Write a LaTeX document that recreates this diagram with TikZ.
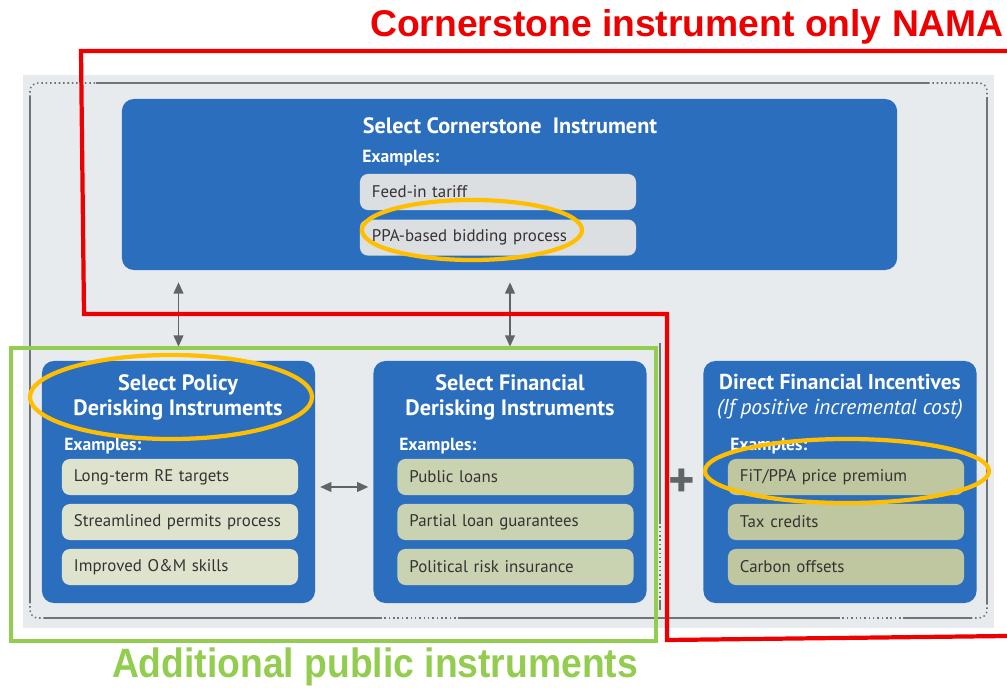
\documentclass[tikz,border=0pt]{standalone}
\usepackage{fontspec}
\setmainfont{PT Sans}
\newfontfamily\headfont{Liberation Sans}
\usetikzlibrary{positioning,arrows.meta}

\definecolor{boxblue}{RGB}{44,110,190}
\definecolor{panelgray}{RGB}{232,235,238}
\definecolor{framegray}{RGB}{112,116,120}
\definecolor{itemgray}{RGB}{220,223,226}
\definecolor{itemlight}{RGB}{222,227,206}
\definecolor{itemmid}{RGB}{201,211,178}
\definecolor{itemdark}{RGB}{190,199,160}
\definecolor{itemtext}{RGB}{55,50,50}
\definecolor{arrowgray}{RGB}{95,100,104}
\definecolor{markgold}{RGB}{255,190,0}
\definecolor{notered}{RGB}{238,0,0}
\definecolor{notegreen}{RGB}{146,205,80}

\begin{document}
\begin{tikzpicture}[x=0.025cm, y=-0.025cm,
    bluebox/.style={fill=boxblue, rounded corners=0.3cm, inner sep=0pt},
    boxtitle/.style={text=white, font=\fontsize{15.8}{17.7}\selectfont\bfseries, align=center},
    examples/.style={text=white, font=\fontsize{12.5}{14}\selectfont\bfseries, anchor=west, inner sep=0pt},
    item/.style={rounded corners=0.2cm, minimum height=0.9cm, text width=5.3cm, inner xsep=0.3cm, align=left, text=itemtext, font=\fontsize{12}{14}\selectfont},
    link/.style={<->, >={Triangle[length=0.28cm, width=0.24cm]}, arrowgray, line width=1.3pt},
    frameline/.style={framegray, line width=1.1pt},
    framedots/.style={frameline, dotted},
    highlight/.style={draw=markgold, line width=3pt},
    note/.style={font=\headfont\bfseries\fontsize{26.5}{30}\selectfont, inner sep=0pt},
  ]
    \useasboundingbox (0,0) rectangle (1007,688);

    % Background panel and its frame
    \fill[panelgray] (23,75) rectangle (994,628);
    \draw[framedots, rounded corners=0.2cm] (30,97) |- (96,83);
    \draw[frameline] (96,83) -- (928,83);
    \draw[framedots, rounded corners=0.2cm] (928,83) -| (987,97);
    \draw[frameline] (987,97) -- (987,603);
    \draw[framedots, rounded corners=0.2cm] (987,603) |- (972,618);
    \draw[frameline] (972,618) -- (905,618);
    \draw[framedots] (905,618) -- (838,618);
    \draw[frameline] (838,618) -- (460,618);
    \draw[framedots] (460,618) -- (380,618);
    \draw[frameline] (380,618) -- (45,618);
    \draw[framedots, rounded corners=0.2cm] (45,618) -| (30,603);
    \draw[frameline] (30,603) -- (30,97);
    % separator
    \draw[frameline] (660,343) -- (660,522);
    \draw[framedots] (660,522) -- (660,602);
    \draw[frameline] (660,602) -- (660,610);

    % Cornerstone box
    \node[bluebox, minimum width=19.375cm, minimum height=4.275cm] (corner) at (509.5,184.5) {};
    \node[boxtitle] (cornertitle) at (510,126) {Select Cornerstone~ Instrument};
    \node[examples] (cornerex) at (362,158) {Examples:};
    \node[item, fill=itemgray, text width=6.3cm] (fit) at (498,192) {Feed-in tariff};
    \node[item, fill=itemgray, text width=6.3cm, below=0.225cm of fit] (ppa) {PPA-based bidding process};

    % Lower boxes
    \node[bluebox, minimum width=6.825cm, minimum height=6.05cm] (policy) at (178.5,482) {};
    \node[bluebox, minimum width=6.825cm, minimum height=6.05cm] (financial) at (510,482) {};
    \node[bluebox, minimum width=6.825cm, minimum height=6.05cm] (incentives) at (840,482) {};

    \node[boxtitle] (policytitle) at (178,397) {Select Policy\\Derisking Instruments};
    \node[boxtitle] (financialtitle) at (510,397) {Select Financial\\Derisking Instruments};
    \node[boxtitle, font=\fontsize{15.3}{17.7}\selectfont\bfseries] (incentivestitle) at (840,397) {Direct Financial Incentives\\{\mdseries\itshape (If positive incremental cost)}};

    \node[examples] (policyex) at (64,446) {Examples:};
    \node[examples] (financialex) at (399,446) {Examples:};
    \node[examples] (incentivesex) at (730,446) {Examples:};

    \foreach \txt [count=\i] in {Long-term RE targets, Streamlined permits process, Improved O\&M skills}
        \node[item, fill=itemlight] (policy-\i) at (180,432+45*\i) {\txt};
    \foreach \txt [count=\i] in {Public loans, Partial loan guarantees, Political risk insurance}
        \node[item, fill=itemmid] (financial-\i) at (515.5,432+45*\i) {\txt};
    \foreach \txt [count=\i] in {FiT/PPA price premium, Tax credits, Carbon offsets}
        \node[item, fill=itemdark] (incentives-\i) at (846,432+45*\i) {\txt};

    % Arrows
    \draw[link, shorten <=0.35cm, shorten >=0.3cm] (policy.north) -- (policy.north |- corner.south);
    \draw[link, shorten <=0.35cm, shorten >=0.3cm] (financial.north) -- (financial.north |- corner.south);
    \draw[link, shorten <=0.12cm, shorten >=0.12cm] ([yshift=-0.125cm]policy.east) -- ([yshift=-0.125cm]financial.west);
    \node[text=arrowgray, font=\fontsize{36}{36}\selectfont\bfseries] (plus) at (682,483) {+};

    % Highlights
    \draw[highlight] (472,230) ellipse [x radius=2.75cm, y radius=0.75cm];
    \draw[highlight] (171,397) ellipse [x radius=3.525cm, y radius=1.05cm];
    \draw[highlight] (847,471) ellipse [x radius=3.55cm, y radius=0.8cm];

    % Scope marks
    \draw[notered, line width=3pt] (1007,51) -- (81,51) -- (84,314) -- (667,314) -- (667,640) -- (1007,636);
    \draw[notegreen, line width=2.5pt] (11,348) rectangle (656,641);
    \node[note, text=notered, anchor=west] (nama) at (370,27) {Cornerstone instrument only NAMA};
    \node[note, text=notegreen] (extra) at (375,667) {\scalebox{1}[1.1]{Additional public instruments}};
\end{tikzpicture}
\end{document}
